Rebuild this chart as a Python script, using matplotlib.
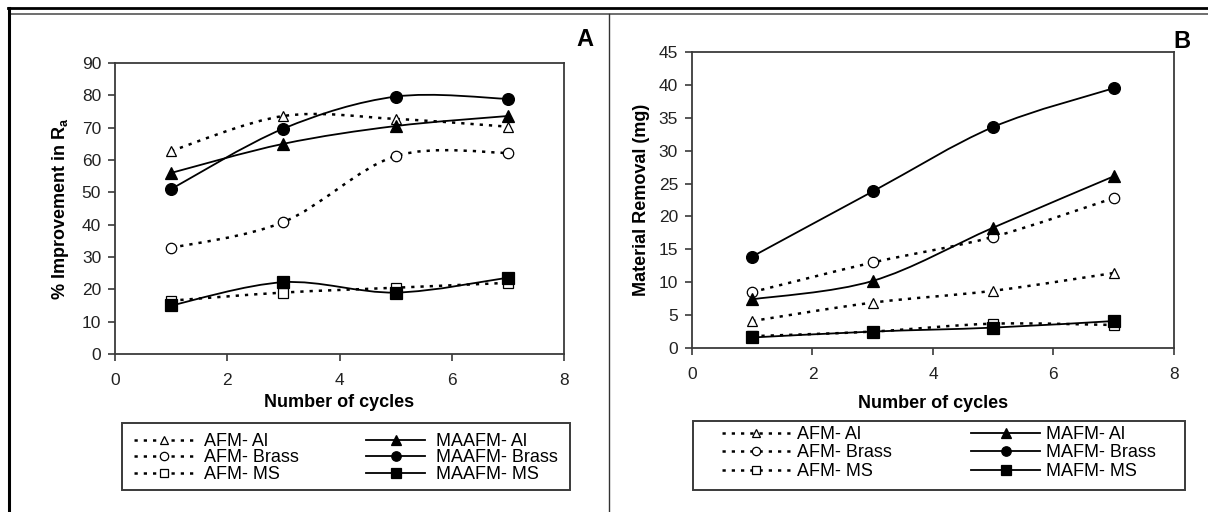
import matplotlib
matplotlib.use("Agg")
import matplotlib.pyplot as plt
from matplotlib.path import Path
from matplotlib.patches import PathPatch, Rectangle
from matplotlib.lines import Line2D

plt.rcParams['font.family'] = ['Liberation Sans', 'DejaVu Sans']
plt.rcParams['mathtext.fontset'] = 'custom'
plt.rcParams['mathtext.rm'] = 'Liberation Sans:bold'
plt.rcParams['mathtext.it'] = 'Liberation Sans:bold'
plt.rcParams['mathtext.bf'] = 'Liberation Sans:bold'
plt.rcParams['mathtext.default'] = 'rm'

cycles = [1, 3, 5, 7]

# panel A - % improvement in Ra
ra_afm_al = [62.8, 73.6, 72.7, 70.3]
ra_maafm_al = [56, 65, 70.5, 73.6]
ra_afm_brass = [32.8, 40.8, 61.2, 62.2]
ra_maafm_brass = [51, 69.7, 79.6, 78.9]
ra_afm_ms = [16.5, 19, 20.5, 22]
ra_maafm_ms = [15, 22.2, 19, 23.6]

# panel B - material removal (mg)
mr_afm_al = [4.1, 6.9, 8.7, 11.4]
mr_mafm_al = [7.4, 10.2, 18.3, 26.1]
mr_afm_brass = [8.5, 13, 16.9, 22.8]
mr_mafm_brass = [13.9, 23.8, 33.6, 39.5]
mr_afm_ms = [1.8, 2.5, 3.7, 3.5]
mr_mafm_ms = [1.6, 2.5, 3.1, 4.1]

labels_a = ['AFM- Al', 'AFM- Brass', 'AFM- MS', 'MAAFM- Al', 'MAAFM- Brass', 'MAAFM- MS']
labels_b = ['AFM- Al', 'AFM- Brass', 'AFM- MS', 'MAFM- Al', 'MAFM- Brass', 'MAFM- MS']

DOT = (0, (1.3, 2.4))
frame_col = '#3a3a3a'
W, H = 1208, 512


def smooth_path(x, y):
    # excel style smoothed line (catmull-rom as bezier)
    pts = list(zip(x, y))
    n = len(pts)
    verts = [pts[0]]
    codes = [Path.MOVETO]
    for i in range(n - 1):
        p0 = pts[i - 1] if i > 0 else pts[i]
        p1 = pts[i]
        p2 = pts[i + 1]
        p3 = pts[i + 2] if i + 2 < n else pts[i + 1]
        c1 = (p1[0] + (p2[0] - p0[0]) / 6, p1[1] + (p2[1] - p0[1]) / 6)
        c2 = (p2[0] - (p3[0] - p1[0]) / 6, p2[1] - (p3[1] - p1[1]) / 6)
        verts += [c1, c2, p2]
        codes += [Path.CURVE4] * 3
    return Path(verts, codes)


def series(ax, x, y, marker, filled):
    if filled:
        ls, lw = '-', 1.3
        face, ms = 'black', 8.5
    else:
        ls, lw = DOT, 1.8
        face, ms = 'white', 7.5
    ax.add_patch(PathPatch(smooth_path(x, y), fill=False, edgecolor='black',
                           linewidth=lw, linestyle=ls, capstyle='butt', zorder=2))
    ax.plot(x, y, linestyle='none', marker=marker, markersize=ms, markerfacecolor=face,
            markeredgecolor='black', markeredgewidth=0.9, zorder=3)
    return Line2D([], [], color='black', linewidth=lw, linestyle=ls, marker=marker,
                  markersize=ms * 0.8, markerfacecolor=face, markeredgecolor='black',
                  markeredgewidth=0.9, dash_capstyle='butt')


def style_axes(ax, ymax, ystep, xpad):
    ax.set_xlim(0, 8)
    ax.set_ylim(0, ymax)
    ax.set_xticks([0, 2, 4, 6, 8])
    ax.set_yticks(range(0, ymax + 1, ystep))
    for s in ax.spines.values():
        s.set_color(frame_col)
        s.set_linewidth(1.3)
    ax.tick_params(direction='out', length=5, width=1.2, color=frame_col,
                   labelsize=12.5, labelcolor='#222222')
    ax.tick_params(axis='x', pad=9)
    ax.tick_params(axis='y', pad=5)
    ax.set_xlabel('Number of cycles', fontsize=13, fontweight='bold', labelpad=xpad)


def legend_box(handles, labels, frame, content, hlen, tpad, lspace):
    fx0, fy0, fx1, fy1 = frame
    fig.add_artist(Rectangle((fx0 / W, 1 - fy1 / H), (fx1 - fx0) / W, (fy1 - fy0) / H,
                             transform=fig.transFigure, fill=False,
                             edgecolor=frame_col, linewidth=1.4))
    x0, y0, x1, y1 = content
    fig.legend(handles, labels, ncol=2, loc='upper left', mode='expand',
               bbox_to_anchor=(x0 / W, 1 - y1 / H, (x1 - x0) / W, (y1 - y0) / H),
               fontsize=13, handlelength=hlen, handletextpad=tpad, labelspacing=lspace,
               borderpad=0, borderaxespad=0, frameon=False)


fig = plt.figure(figsize=(12.08, 5.12), dpi=100)

axA = fig.add_axes([0.0952, 0.3086, 0.3717, 0.5684])
hA = []
hA.append(series(axA, cycles, ra_afm_al, '^', False))
hA.append(series(axA, cycles, ra_afm_brass, 'o', False))
hA.append(series(axA, cycles, ra_afm_ms, 's', False))
hA.append(series(axA, cycles, ra_maafm_al, '^', True))
hA.append(series(axA, cycles, ra_maafm_brass, 'o', True))
hA.append(series(axA, cycles, ra_maafm_ms, 's', True))
style_axes(axA, 90, 10, 4)
axA.set_ylabel('% Improvement in R$_{\\mathregular{a}}$', fontsize=13, fontweight='bold', labelpad=8)

axB = fig.add_axes([0.5728, 0.3203, 0.3990, 0.5781])
hB = []
hB.append(series(axB, cycles, mr_afm_al, '^', False))
hB.append(series(axB, cycles, mr_afm_brass, 'o', False))
hB.append(series(axB, cycles, mr_afm_ms, 's', False))
hB.append(series(axB, cycles, mr_mafm_al, '^', True))
hB.append(series(axB, cycles, mr_mafm_brass, 'o', True))
hB.append(series(axB, cycles, mr_mafm_ms, 's', True))
style_axes(axB, 45, 5, 9)
axB.set_ylabel('Material Removal (mg)', fontsize=13, fontweight='bold', labelpad=6)

legend_box(hA, labels_a, (122, 423, 570, 490), (134, 433, 558, 486), 3.3, 0.6, -0.03)
legend_box(hB, labels_b, (693, 421, 1185, 490), (722, 426, 1156, 481), 3.8, 0.35, 0.08)

# panel frame lines
fig.add_artist(Line2D([8 / W, 1], [1 - 7.5 / H, 1 - 7.5 / H], color='black',
                      linewidth=2, transform=fig.transFigure))
fig.add_artist(Line2D([10 / W, 1], [1 - 14 / H, 1 - 14 / H], color='#555555',
                      linewidth=1.2, transform=fig.transFigure))
fig.add_artist(Line2D([8.5 / W, 8.5 / W], [0, 1 - 7.5 / H], color='black',
                      linewidth=2.2, transform=fig.transFigure))
fig.add_artist(Line2D([609 / W, 609 / W], [0, 1 - 14 / H], color='#333333',
                      linewidth=1, transform=fig.transFigure))

fig.text(585 / W, 1 - 40 / H, 'A', fontsize=17, fontweight='bold', ha='center', va='center')
fig.text(1182 / W, 1 - 42 / H, 'B', fontsize=17, fontweight='bold', ha='center', va='center')

fig.savefig('out.png', dpi=100)
